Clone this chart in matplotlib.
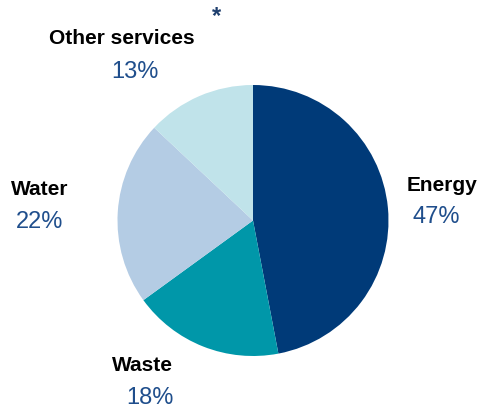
import matplotlib
matplotlib.use("Agg")
import matplotlib.pyplot as plt

categories = ["Energy", "Waste", "Water", "Other services"]
shares = [47, 18, 22, 13]
colors = ["#003A78", "#0097A9", "#B4CCE4", "#C0E3EA"]

W, H = 482, 410
fig = plt.figure(figsize=(W / 100, H / 100), dpi=100)
plt.rcParams['font.family'] = ['Liberation Sans', 'DejaVu Sans']

cx, cy, r = 253, 221.5, 135.5
ax = fig.add_axes([(cx - r) / W, 1 - (cy + r) / H, 2 * r / W, 2 * r / H])
ax.pie(shares, colors=colors, startangle=90, counterclock=False,
       wedgeprops=dict(linewidth=0), radius=1)
ax.set_xlim(-1, 1)
ax.set_ylim(-1, 1)
ax.set_aspect("equal")
ax.axis("off")

label_pos = {
    "Energy": ((442, 186), (436, 217)),
    "Waste": ((142, 366), (150, 398)),
    "Water": ((40, 190), (40, 222)),
    "Other services": ((122, 38), (135, 72)),
}
for cat, val in zip(categories, shares):
    (lx, ly), (px, py) = label_pos[cat]
    fig.text(lx / W, 1 - ly / H, cat, ha="center", va="center",
             fontsize=15, fontweight="bold", color="black")
    fig.text(px / W, 1 - py / H, f"{val}%", ha="center", va="center",
             fontsize=17, color="#1F4E8C")

fig.text(217 / W, 1 - 17 / H, "*", ha="center", va="center",
         fontsize=17, fontweight="bold", color="#1F3F6E")

fig.savefig("out.png", dpi=100)
